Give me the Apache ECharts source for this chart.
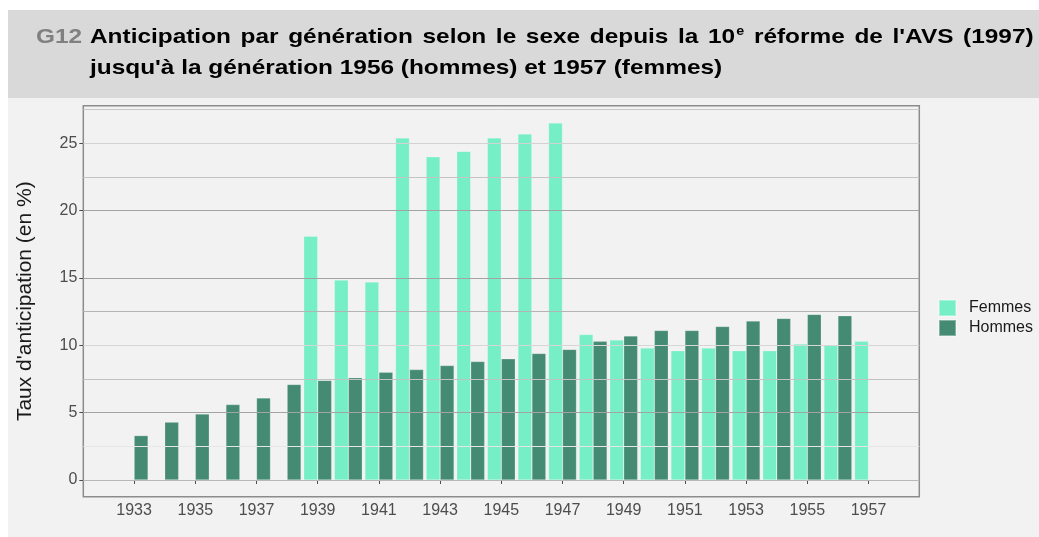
<!DOCTYPE html>
<html><head><meta charset="utf-8">
<script src="https://cdn.jsdelivr.net/npm/echarts@6/dist/echarts.min.js"></script>
<style>html,body{margin:0;padding:0;background:#fff}#c{width:1039px;height:537px}</style>
</head><body><div id="c"></div>
<script>
// ---- data ----
const categories = [1933,1934,1935,1936,1937,1938,1939,1940,1941,1942,1943,1944,1945,1946,1947,1948,1949,1950,1951,1952,1953,1954,1955,1956,1957];
const femmes = [null,null,null,null,null,null,18.1,14.85,14.7,25.4,24.0,24.4,25.4,25.7,26.5,10.8,10.4,9.8,9.6,9.8,9.6,9.6,10.1,10.0,10.3];
const hommes = [3.3,4.3,4.9,5.6,6.1,7.1,7.4,7.6,8.0,8.2,8.5,8.8,9.0,9.4,9.7,10.3,10.7,11.1,11.1,11.4,11.8,12.0,12.3,12.2,null];
const xTickLabels = [1933,1935,1937,1939,1941,1943,1945,1947,1949,1951,1953,1955,1957];
const yTickLabels = [0,5,10,15,20,25];
const gridLineValues = [0,2.5,5,7.5,10,12.5,15,20,22.5,25,27.5];
const seriesNames = ['Femmes','Hommes'];
const titleCode = 'G12';
const titleLine1a = 'Anticipation par génération selon le sexe depuis la 10';
const titleSup = 'e';
const titleLine1b = " réforme de l'AVS (1997)";
const titleLine2 = "jusqu'à la génération 1956 (hommes) et 1957 (femmes)";
const yAxisTitle = "Taux d'anticipation (en %)";

// ---- styles ----
const FONT = "'Liberation Sans', Arial, sans-serif";
const gridLineColor = {0:'#b8b8b8',2.5:'#e6e6e6',5:'#a3a3a3',7.5:'#c2c2c2',10:'#d6d6d6',12.5:'#b4b4b4',15:'#a3a3a3',20:'#a3a3a3',22.5:'#c4c4c4',25:'#d2d2d2',27.5:'#c8c8c8'};

const toPairs = vals => categories.map((c,i)=>[c, vals[i]]).filter(p => p[1] !== null);
// justified first title line: words joined by widened space tokens
const words = s => s.split(' ').filter(w => w.length).map(w => '{t|' + w + '}');
const SP = '{s| }';
const line1 = words(titleLine1a).join(SP) + '{sup|' + titleSup + '}' + SP + words(titleLine1b).join(SP);
const titleRich = line1 + '\n{t|' + titleLine2 + '}';

const chart = echarts.init(document.getElementById('c'), null, {renderer:'canvas'});
chart.setOption({
  backgroundColor: '#ffffff',
  animation: false,
  textStyle: { fontFamily: FONT },
  graphic: { elements: [
    { type:'rect', z:-100, silent:true, shape:{x:8,y:10,width:1031,height:88}, style:{fill:'#d9d9d9'} },
    { type:'rect', z:-100, silent:true, shape:{x:8,y:98,width:1031,height:439}, style:{fill:'#f2f2f2'} },
    { type:'text', z:10, silent:true, x:36, y:21.5, scaleX:1.19,
      style:{ text: titleCode, fontFamily: FONT, fontSize: 20.5, fontWeight:'bold', fill:'#808080', lineHeight:31, verticalAlign:'top' } },
    { type:'text', z:10, silent:true, x:90, y:21.5, scaleX:1.19,
      style:{ text: titleRich,
        fontFamily: FONT, fontSize: 20.5, fontWeight:'bold', fill:'#000', lineHeight:31, verticalAlign:'top',
        rich: {
          t: { fontFamily: FONT, fontSize: 20.5, fontWeight: 'bold', fill: '#000', color: '#000', lineHeight: 31 },
          s: { fontFamily: FONT, fontSize: 20.5, fontWeight: 'bold', fill: '#000', color: '#000', lineHeight: 31, width: 8.1 },
          sup: { fontFamily: FONT, fontSize: 12, fontWeight: 'bold', fill: '#000', color: '#000', lineHeight: 14, verticalAlign: 'top', padding: [4,0,0,1] }
        } } }
  ]},
  legend: {
    data: seriesNames, orient: 'vertical', left: 938, top: 299, padding: 0,
    itemWidth: 17, itemHeight: 16, itemGap: 2, icon: 'rect',
    textStyle: { fontFamily: FONT, fontSize: 16, color: '#1a1a1a', lineHeight: 16, padding: [0,0,0,8] }
  },
  grid: { left: 83.3, right: 119.7, top: 105.7, bottom: 40.3, show: true, backgroundColor: 'transparent',
    borderColor: '#8c8c8c', borderWidth: 1.5 },
  xAxis: {
    type: 'value', min: 1931.34, max: 1958.66,
    axisLine: { show: false },
    splitLine: { show: false },
    axisTick: { show: true, customValues: xTickLabels, length: 4, lineStyle: { color: '#4d4d4d' } },
    axisLabel: { customValues: xTickLabels, margin: 6, fontSize: 16, color: '#4d4d4d', fontFamily: FONT,
      formatter: v => String(v) }
  },
  yAxis: {
    type: 'value', min: -1.24, max: 27.79,
    name: yAxisTitle, nameLocation: 'middle', nameRotate: 90, nameGap: 48,
    nameTextStyle: { fontFamily: FONT, fontSize: 21, color: '#1a1a1a' },
    axisLine: { show: false },
    splitLine: { show: false },
    axisTick: { show: true, customValues: yTickLabels, length: 4, lineStyle: { color: '#4d4d4d' } },
    axisLabel: { customValues: yTickLabels, margin: 6, fontSize: 16, color: '#4d4d4d', fontFamily: FONT }
  },
  series: [
    { name: '_grid', type: 'line', data: [], z: 1, silent: true, showSymbol: false,
      markLine: { silent: true, symbol: 'none', label: { show: false }, animation: false,
        data: gridLineValues.map(v => ({ yAxis: v, lineStyle: { color: gridLineColor[v], width: 1, type: 'solid' } })) } },
    { name: seriesNames[0], type: 'bar', z: 3, data: toPairs(femmes), barWidth: 14, barGap: '0%',
      itemStyle: { color: '#76EEC6', borderColor: 'rgba(255,255,255,0.35)', borderWidth: 0.6 } },
    { name: seriesNames[1], type: 'bar', z: 3, data: toPairs(hommes), barWidth: 14, barGap: '0%',
      itemStyle: { color: '#458B74', borderColor: 'rgba(255,255,255,0.35)', borderWidth: 0.6 } }
  ]
});
</script></body></html>
